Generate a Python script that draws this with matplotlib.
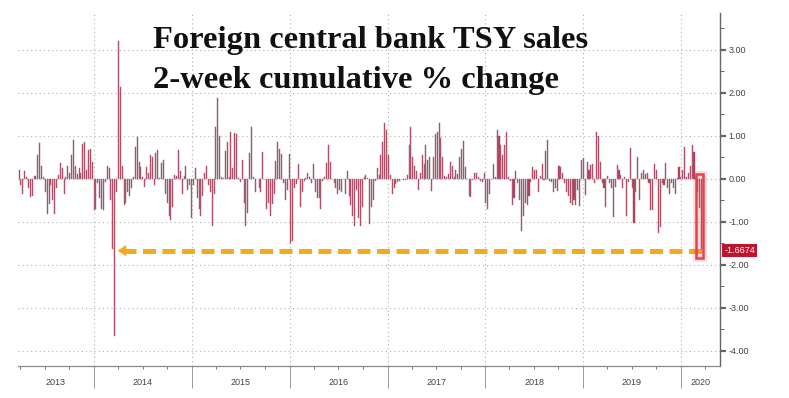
import numpy as np
import pandas as pd
import matplotlib
matplotlib.use("Agg")
import matplotlib.pyplot as plt
import matplotlib.dates as mdates
import matplotlib.transforms as mtransforms
from matplotlib.patches import Rectangle
from matplotlib.ticker import FuncFormatter, MultipleLocator

# weekly 2-week cumulative % change, one list per year
v2013 = [0.2, -0.15, -0.35, 0.18, 0.05, -0.2, -0.42, -0.4, 0.06, 0.08,
         0.55, 0.83, 0.3, 0.05, -0.3, -0.82, -0.58, -0.15, -0.5, -0.82,
         -0.2, 0.1, 0.38, 0.25, -0.35, 0.05, 0.3, 0.15, 0.55, 0.9,
         0.3, 0.12, 0.25, 0.15, 0.82, 0.85, 0.2, 0.68, 0.7, 0.4]
v2014 = [-0.72, -0.7, -0.1, -0.45, -0.7, -0.72, -0.08, 0.3, 0.25, -0.5,
         -1.62, -3.65, -0.3, 3.2, 2.15, 0.3, -0.6, -0.55, -0.3, -0.4,
         -0.2, 0.05, 0.75, 0.98, 0.4, 0.28, 0.05, -0.18, 0.28, 0.15,
         0.55, 0.5, -0.15, 0.6, 0.68, 0.02, 0.38, 0.45, -0.35, -0.55,
         -0.85, -0.95, -0.65, 0.1, 0.08, 0.68, 0.18, -0.35, 0.08, 0.3,
         -0.25, -0.15, -0.9]
v2015 = [-0.15, 0.25, -0.45, -0.7, -0.85, -0.4, 0.15, 0.3, -0.15, -0.3,
         -1.1, -0.35, 1.22, 1.88, 1.0, 0.05, 0.02, 0.65, 0.85, 0.05,
         1.1, 0.25, 1.08, 1.05, 0.02, -0.08, 0.45, -0.55, -1.1, -0.8,
         0.6, 1.2, 0.05, -0.3, 0.0, -0.2, -0.3, 0.63, 0.0, -0.7,
         -0.55, -0.85, -0.58, -0.35, 0.42, 0.85, 0.7, 0.58, -0.1, -0.48,
         -0.25, 0.58]
v2016 = [-1.5, -1.45, -0.2, -0.12, 0.35, -0.65, -0.3, -0.05, 0.02, 0.15,
         0.05, -0.1, 0.35, -0.3, -0.45, -0.45, -0.7, -0.05, 0.05, 0.38,
         0.8, 0.4, 0.0, -0.1, -0.2, -0.35, -0.25, -0.3, 0.0, -0.35,
         0.18, -0.4, -0.6, -0.85, -1.1, -0.25, -0.9, -1.1, -0.65, 0.05,
         0.1, 0.02, -1.05, -0.65, -0.5, -0.05, 0.25, 0.1, 0.55, 0.85,
         1.3, 1.15]
v2017 = [0.55, 0.1, -0.35, -0.2, -0.12, -0.08, -0.05, 0.0, -0.03, -0.02,
         0.1, 0.8, 1.2, 0.5, 0.3, 0.18, -0.25, 0.15, 0.55, 0.35,
         0.8, 0.45, 0.5, -0.28, 0.5, 1.05, 1.1, 1.3, 0.95, 0.5,
         0.08, 0.05, 0.12, 0.4, 0.3, 0.05, 0.22, 0.12, 0.5, 0.7,
         0.88, 0.28, 0.0, -0.4, -0.42, -0.02, 0.15, 0.15, 0.05, -0.05,
         -0.08, 0.15]
v2018 = [-0.55, -0.7, -0.35, 0.0, 0.35, 0.05, 1.15, 1.0, 0.78, 0.55,
         0.8, 1.1, 0.05, -0.05, -0.6, -0.45, 0.18, -0.1, -0.5, -1.2,
         -0.85, -0.55, -0.6, -0.4, -0.08, 0.28, 0.2, 0.22,
         -0.3, 0.08, 0.35, -0.02, 0.65, 0.9, -0.05, -0.08, -0.3,
         -0.2, -0.28, 0.3, 0.28, 0.15, -0.1, -0.3, -0.4, -0.55,
         -0.6, -0.5, -0.6, -0.25, -0.62, 0.45]
v2019 = [0.48, -0.38, 0.4, 0.2, 0.32, 0.35, -0.1, 1.1, 1.0, 0.4,
         -0.1, -0.2, -0.65, 0.08, -0.1, -0.2, -0.88, -0.18, 0.32, 0.2,
         0.1, -0.2, 0.05, -0.85, -0.08, 0.72, -0.2, -1.02, -0.3, 0.52,
         -0.5, 0.15, 0.2, 0.12, 0.15, -0.1, -0.72, -0.72, 0.35, 0.2,
         -1.25, -1.12, -0.1, -0.15, 0.38, -0.2, -0.35, -0.1, -0.2, -0.35,
         0.02, 0.28]
v2020 = [0.05, 0.2, 0.75, 0.05, 0.15, 0.3, 0.8, 0.62, 0.05, -0.3,
         -0.68, -1.6674]

years = [2013, 2014, 2015, 2016, 2017, 2018, 2019, 2020]
title_lines = ["Foreign central bank TSY sales", "2-week cumulative % change"]

values = np.array(v2013 + v2014 + v2015 + v2016 + v2017 + v2018 + v2019 + v2020)
dates = pd.date_range(end="2020-03-18", periods=len(values), freq="7D")

bar_col = "#b8304f"
grid_col = "#b0b0b0"
axis_col = "#666666"
txt_col = "#444444"
sans = ["Liberation Sans", "DejaVu Sans"]

fig = plt.figure(figsize=(7.89, 3.98), dpi=100)
ax = fig.add_axes([18 / 789, 32 / 398, (720 - 18) / 789, (366 - 13) / 398])

x0 = pd.Timestamp("2013-03-23")
x1 = pd.Timestamp("2020-05-26")
ax.set_xlim(x0, x1)
ax.set_ylim(-4.35, 3.86)

# grid
for yv in range(-4, 4):
    ax.axhline(yv, color=grid_col, lw=0.8, ls=(0, (1, 2.8)), zorder=1)
for yr in years[1:]:
    ax.axvline(pd.Timestamp(f"{yr}-01-01"), color=grid_col, lw=0.8,
               ls=(0, (1, 2.8)), zorder=1)

ax.bar(dates, values, width=4.0, color=bar_col, edgecolor="#a27283",
       linewidth=0.35, zorder=2)

# dashed arrow from the latest value back to the 2014 low
last = values[-1]
imin = int(np.argmin(values))
tip = dates[imin] + pd.Timedelta(days=11)
ax.plot([tip + pd.Timedelta(days=20), dates[-1]], [last, last],
        color="#f2ab1f", lw=3.6, ls=(0, (2.6, 1.3)), solid_capstyle="butt",
        zorder=4)
ax.annotate("", xy=(tip, last), xytext=(tip + pd.Timedelta(days=24), last),
            arrowprops=dict(arrowstyle="-|>,head_length=0.6,head_width=0.4",
                            color="#f2ab1f", lw=0.1, shrinkA=0, shrinkB=0),
            zorder=4)

# red box round the last bars
bx0 = mdates.date2num(dates[-3] - pd.Timedelta(days=6))
bx1 = mdates.date2num(dates[-1] + pd.Timedelta(days=6))
by0 = values[-3:].min() - 0.17
by1 = 0.12
for lw, a in [(5, 0.18), (1.8, 1.0)]:
    ax.add_patch(Rectangle((bx0, by0), bx1 - bx0, by1 - by0, fill=False,
                           ec="#e8404c", lw=lw, alpha=a, zorder=5))

# spines
for s in ["top", "left"]:
    ax.spines[s].set_visible(False)
ax.spines["right"].set_color(axis_col)
ax.spines["bottom"].set_color("#888888")
ax.spines["right"].set_linewidth(1.0)
ax.spines["bottom"].set_linewidth(0.9)

# y axis on the right
ax.yaxis.tick_right()
ax.yaxis.set_major_locator(MultipleLocator(1))
ax.yaxis.set_minor_locator(MultipleLocator(0.5))
ax.yaxis.set_major_formatter(FuncFormatter(lambda v, p: f"{v:.2f}".replace("\u2212", "-")))
ax.tick_params(axis="y", which="major", direction="out", length=4, width=1.6,
               color=axis_col, labelsize=6.5, labelcolor=txt_col, pad=2)
ax.tick_params(axis="y", which="minor", direction="out", length=3, width=0.7,
               color=axis_col)
for lab in ax.get_yticklabels():
    lab.set_family(sans)

# x axis: year separators and quarter ticks
ax.set_xticks([pd.Timestamp(f"{yr}-01-01") for yr in years[1:]])
ax.set_xticks([pd.Timestamp(f"{yr}-{m:02d}-01") for yr in years for m in (4, 7, 10)
               if x0 < pd.Timestamp(f"{yr}-{m:02d}-01") < x1], minor=True)
ax.tick_params(axis="x", which="major", direction="out", length=16, width=0.7,
               color="#999999", labelbottom=False)
ax.tick_params(axis="x", which="minor", direction="out", length=2.5, width=0.7,
               color="#777777")

trans = mtransforms.blended_transform_factory(ax.transData, ax.transAxes)
for yr in years:
    a = max(mdates.date2num(pd.Timestamp(f"{yr}-01-01")), mdates.date2num(x0))
    b = min(mdates.date2num(pd.Timestamp(f"{yr + 1}-01-01")), mdates.date2num(x1))
    ax.text((a + b) / 2, -0.048, str(yr), transform=trans, ha="center",
            va="center", fontsize=6.5, color=txt_col, family=sans)

# last value tag
tag_tr = mtransforms.blended_transform_factory(ax.transAxes, ax.transData)
ax.text(1.006, last, f"{last:.4f}", transform=tag_tr, ha="left", va="center",
        fontsize=6.5, color="white", family=sans, zorder=6,
        bbox=dict(boxstyle="square,pad=0.25", fc="#c0142e", ec="none"))

# title
fig.text(153 / 789, 1 - 48 / 398, title_lines[0], fontsize=23.4, weight="bold",
         family=["Liberation Serif", "DejaVu Serif"], va="baseline", color="#111111")
fig.text(153 / 789, 1 - 88 / 398, title_lines[1], fontsize=23.4, weight="bold",
         family=["Liberation Serif", "DejaVu Serif"], va="baseline", color="#111111")

fig.savefig("out.png", dpi=100, facecolor="white")
